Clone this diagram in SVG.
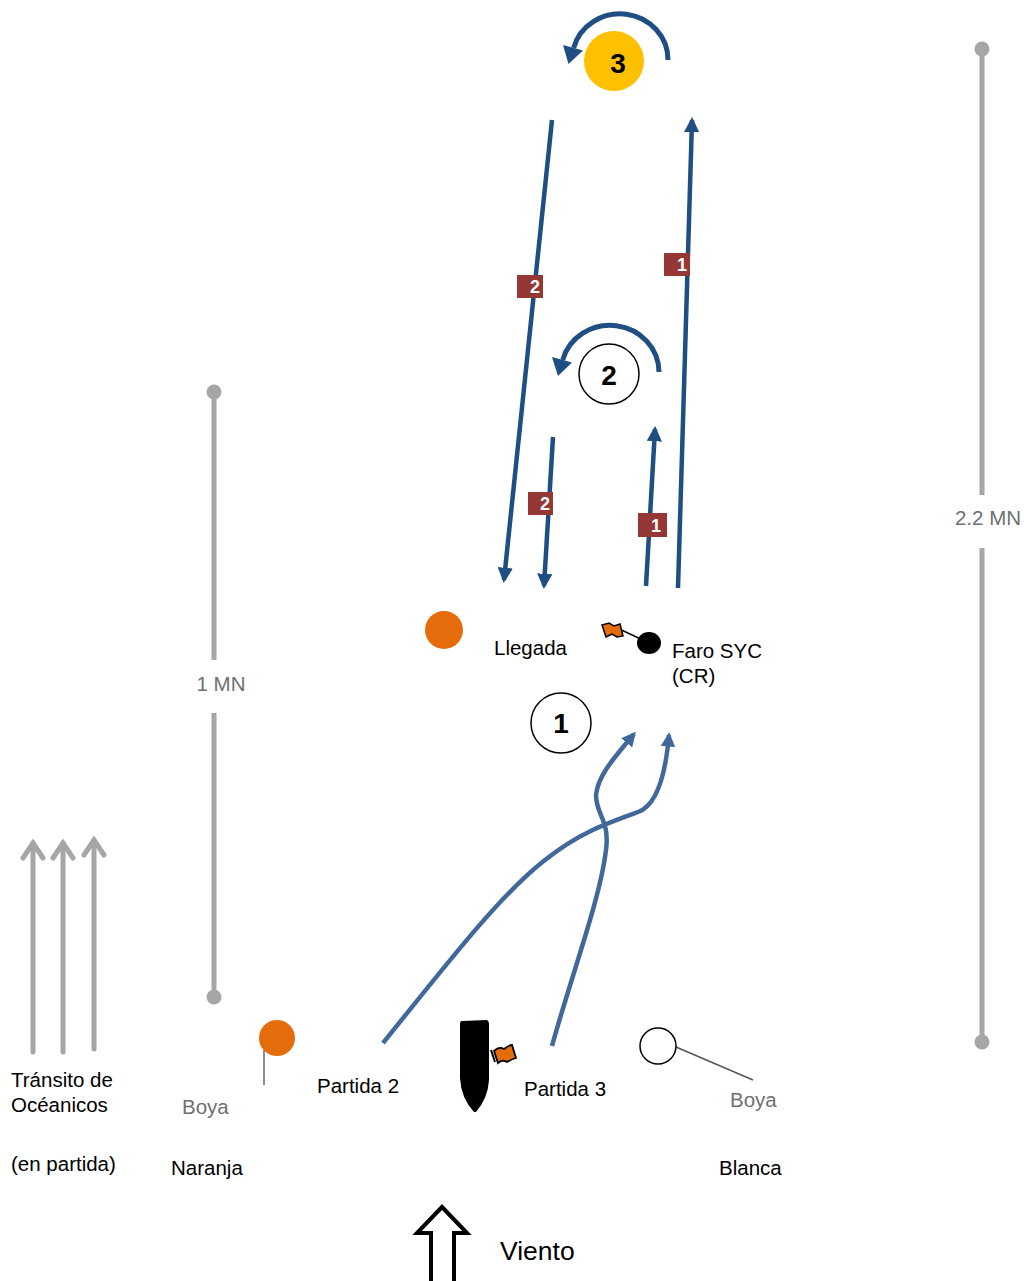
<svg xmlns="http://www.w3.org/2000/svg" width="1024" height="1281" viewBox="0 0 1024 1281">
<style>
text{font-family:"Liberation Sans",Arial,sans-serif;}
.t{font-size:20.5px;fill:#000;}
.g{font-size:20.5px;fill:#6f6f6f;}
.num{font-size:28px;font-weight:bold;fill:#000;}
.lbl{font-size:18px;font-weight:bold;fill:#fff;}
.leg{stroke:#1F4E83;stroke-width:4.5;fill:none;}
.arc{stroke:#1F4E83;stroke-width:5;fill:none;}
.head{fill:#1F4E83;}
.cur{stroke:#41689A;stroke-width:4.5;fill:none;}
.scale{stroke:#A6A6A6;stroke-width:5;fill:none;}
.sq{fill:#953735;}
</style>
<defs>
<marker id="ah" viewBox="0 0 10 10" refX="8" refY="5" markerWidth="3.4" markerHeight="3.4" orient="auto" markerUnits="strokeWidth">
<path d="M0,0 L10,5 L0,10 z" fill="#1F4E83"/>
</marker>
<marker id="ah2" viewBox="0 0 10 10" refX="8" refY="5" markerWidth="3.2" markerHeight="3.2" orient="auto" markerUnits="strokeWidth">
<path d="M0,0 L10,5 L0,10 z" fill="#41689A"/>
</marker>
</defs>

<g id="connectors">
<line class="leg" x1="552" y1="120" x2="504" y2="580" marker-end="url(#ah)"/>
<line class="leg" x1="678" y1="588" x2="692" y2="120" marker-end="url(#ah)"/>
<line class="leg" x1="553" y1="437" x2="544" y2="586" marker-end="url(#ah)"/>
<line class="leg" x1="646" y1="586" x2="655" y2="429" marker-end="url(#ah)"/>
<path class="arc" d="M668,60 A48,46 0 0 0 573.6,48"/>
<polygon class="head" points="563,45 583,50.5 568.5,64"/>
<path class="arc" d="M659,372 A49,47 0 0 0 562.7,360"/>
<polygon class="head" points="552,357 572,362.5 558,376"/>
<path class="cur" d="M383,1043 C450,960 500,895 545,860 C580,832 610,822 638,812 C658,805 666,770 669,735" marker-end="url(#ah2)"/>
<path class="cur" d="M552,1046 C570,980 600,900 606,850 C610,820 596,815 596,795 C598,775 615,757 634,734" marker-end="url(#ah2)"/>
</g>

<g id="label-2-long"><rect class="sq" x="517" y="275" width="26" height="23"/><text class="lbl" x="535" y="293" text-anchor="middle">2</text></g>
<g id="label-1-long"><rect class="sq" x="664" y="253" width="26" height="23"/><text class="lbl" x="682" y="271" text-anchor="middle">1</text></g>
<g id="label-2-short"><rect class="sq" x="528" y="492" width="25" height="23"/><text class="lbl" x="545" y="510" text-anchor="middle">2</text></g>
<g id="label-1-short"><rect class="sq" x="638" y="513" width="29" height="24"/><text class="lbl" x="656" y="532" text-anchor="middle">1</text></g>

<g id="mark3"><circle cx="614" cy="61" r="30" fill="#FFC000"/><text class="num" x="618" y="73" text-anchor="middle">3</text></g>
<g id="mark2"><circle cx="609" cy="374" r="30" fill="#fff" stroke="#000" stroke-width="1.5"/><text class="num" x="609" y="385" text-anchor="middle">2</text></g>
<g id="mark1"><circle cx="561" cy="723" r="30" fill="#fff" stroke="#000" stroke-width="1.5"/><text class="num" x="561" y="733" text-anchor="middle">1</text></g>

<g id="finish-buoy"><circle cx="444" cy="630" r="19" fill="#E46C0A"/></g>
<g id="llegada"><text class="t" x="494" y="655">Llegada</text></g>
<g id="faro">
<line x1="615" y1="627" x2="645" y2="641" stroke="#000" stroke-width="1.5"/>
<path d="M602,625 L609,623 L614,626 L620,624 L623,636 L617,637 L612,634 L606,637 Z" fill="#E46C0A" stroke="#000" stroke-width="1.5"/>
<ellipse cx="649" cy="643" rx="12" ry="11" fill="#000"/>
<text class="t" x="672" y="658">Faro SYC</text>
<text class="t" x="672" y="683">(CR)</text>
</g>

<g id="scale-1mn">
<line class="scale" x1="214" y1="392" x2="214" y2="660"/>
<line class="scale" x1="214" y1="713" x2="214" y2="997"/>
<circle cx="214" cy="392" r="7.5" fill="#A6A6A6"/>
<circle cx="214" cy="997" r="7.5" fill="#A6A6A6"/>
<text class="g" x="221" y="691" text-anchor="middle">1 MN</text>
</g>
<g id="scale-2mn">
<line class="scale" x1="982" y1="49" x2="982" y2="495"/>
<line class="scale" x1="982" y1="548" x2="982" y2="1042"/>
<circle cx="982" cy="49" r="7.5" fill="#A6A6A6"/>
<circle cx="982" cy="1042" r="7.5" fill="#A6A6A6"/>
<text class="g" x="988" y="525" text-anchor="middle">2.2 MN</text>
</g>

<g id="transit">
<g stroke="#A6A6A6" stroke-width="5" fill="none" stroke-linecap="round">
<line x1="33" y1="1052" x2="33" y2="843"/><polyline points="23,858 33,843 43,858"/>
<line x1="63" y1="1052" x2="63" y2="843"/><polyline points="53,858 63,843 73,858"/>
<line x1="94" y1="1049" x2="94" y2="840"/><polyline points="84,855 94,840 104,855"/>
</g>
<text class="t" x="11" y="1087">Tránsito de</text>
<text class="t" x="11" y="1112">Océanicos</text>
<text class="t" x="11" y="1171">(en partida)</text>
</g>

<g id="buoy-naranja">
<line x1="264" y1="1050" x2="264" y2="1085" stroke="#666" stroke-width="1.5"/>
<circle cx="277" cy="1038" r="18" fill="#E46C0A"/>
<text class="g" x="182" y="1114">Boya</text>
<text class="t" x="171" y="1175">Naranja</text>
</g>

<g id="partida2"><text class="t" x="317" y="1093">Partida 2</text></g>

<g id="boat">
<path d="M462,1021 L487,1020 Q489,1021 489,1024 L489,1080 Q488,1098 476,1112 L474,1112 Q461,1098 460,1078 L460,1024 Q460,1021 462,1021 Z" fill="#000"/>
<line x1="491" y1="1050" x2="495" y2="1062" stroke="#000" stroke-width="2"/>
<path d="M494,1051 Q499,1046 504,1049 Q509,1045 512,1045 L516,1058 Q512,1059 507,1062 Q502,1059 498,1063 Z" fill="#E46C0A" stroke="#000" stroke-width="1.8"/>
</g>
<g id="partida3"><text class="t" x="524" y="1096">Partida 3</text></g>

<g id="buoy-blanca">
<line x1="676" y1="1047" x2="753" y2="1080" stroke="#555" stroke-width="1.5"/>
<circle cx="658" cy="1046" r="18" fill="#fff" stroke="#000" stroke-width="1.5"/>
<text class="g" x="730" y="1107">Boya</text>
<text class="t" x="719" y="1175">Blanca</text>
</g>

<g id="wind">
<path d="M431,1284 L431,1233 L417,1233 L442,1207 L467,1233 L454,1233 L454,1284" fill="#fff" stroke="#000" stroke-width="4" stroke-linejoin="miter"/>
<text x="500" y="1260" style="font-size:26.5px;fill:#000;">Viento</text>
</g>
</svg>
